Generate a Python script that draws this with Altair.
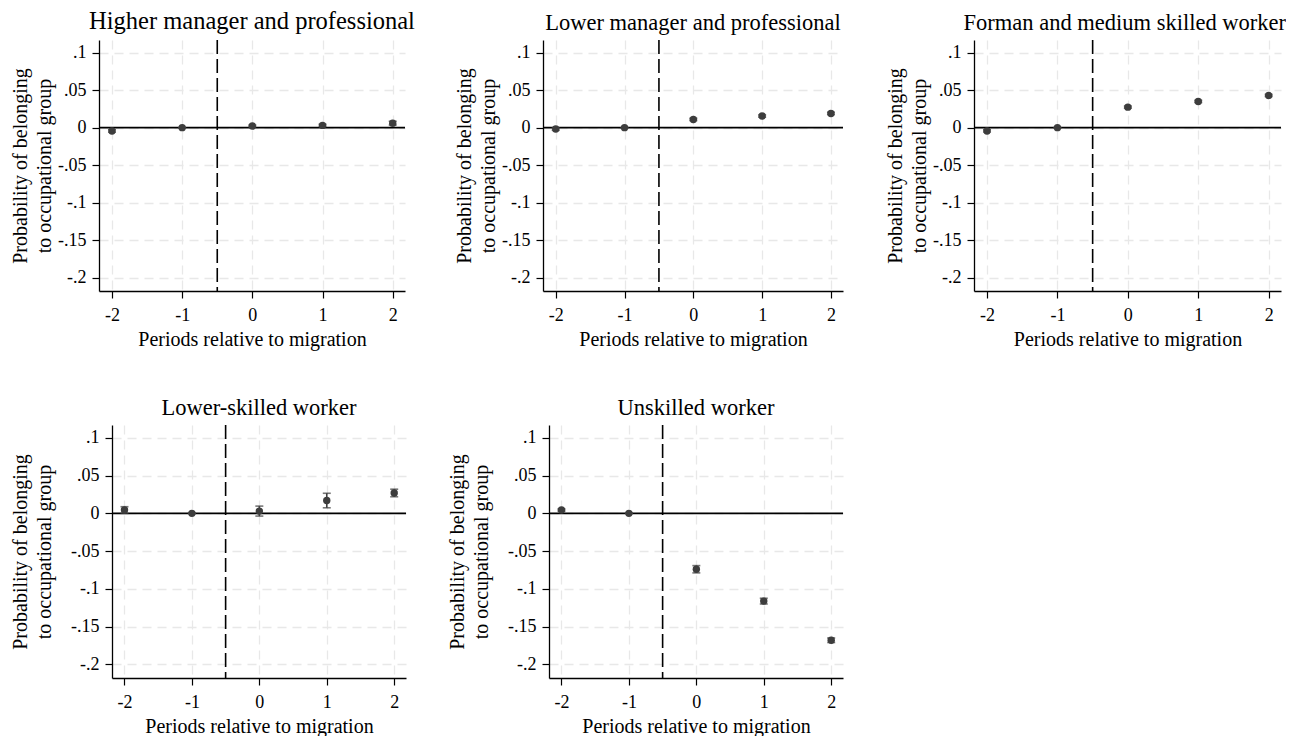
import altair as alt
import pandas as pd

periods = [-2, -1, 0, 1, 2]

titles = [
    "Higher manager and professional",
    "Lower manager and professional",
    "Forman and medium skilled worker",
    "Lower-skilled worker",
    "Unskilled worker",
]

est_higher = [-0.0044, 0.0, 0.0022, 0.0030, 0.0060]
lo_higher = [-0.0060, 0.0, 0.0010, 0.0015, 0.0035]
hi_higher = [-0.0028, 0.0, 0.0034, 0.0045, 0.0085]

est_lower = [-0.0018, 0.0, 0.0110, 0.0155, 0.0190]
lo_lower = [-0.0035, 0.0, 0.0095, 0.0140, 0.0175]
hi_lower = [-0.0001, 0.0, 0.0125, 0.0170, 0.0205]

est_forman = [-0.0044, 0.0, 0.0274, 0.0350, 0.0430]
lo_forman = [-0.0058, 0.0, 0.0260, 0.0336, 0.0416]
hi_forman = [-0.0030, 0.0, 0.0288, 0.0364, 0.0444]

est_lowskill = [0.0044, 0.0, 0.0030, 0.0170, 0.0270]
lo_lowskill = [0.0000, 0.0, -0.0036, 0.0074, 0.0220]
hi_lowskill = [0.0088, 0.0, 0.0096, 0.0266, 0.0320]

est_unskilled = [0.0044, 0.0, -0.0740, -0.1162, -0.1680]
lo_unskilled = [0.0030, 0.0, -0.0788, -0.1200, -0.1710]
hi_unskilled = [0.0058, 0.0, -0.0692, -0.1124, -0.1650]

y_ticks = [-0.2, -0.15, -0.1, -0.05, 0, 0.05, 0.1]
x_domain = [-2.185, 2.175]
y_domain = [-0.218, 0.117]
migration_line = -0.5

FONT = "Liberation Serif"
PT = "#3d3d3d"

label_expr = ("datum.value == 0 ? '0' : (datum.value < 0 ? '-' : '') + "
              "replace(format(abs(datum.value), '~g'), '0.', '.')")


def panel(title, est, lo, hi, width, height, ytitle_pad, tsize=22.5, anchor="middle", dx=0):
    df = pd.DataFrame({"period": periods, "est": est, "lo": lo, "hi": hi})
    x = alt.X("period:Q",
              scale=alt.Scale(domain=x_domain, nice=False, zero=False),
              axis=alt.Axis(values=periods, title="Periods relative to migration",
                            labelExpr="toString(datum.value)"))
    y = alt.Y("est:Q",
              scale=alt.Scale(domain=y_domain, nice=False, zero=False),
              axis=alt.Axis(values=y_ticks, labelExpr=label_expr,
                            title=["Probability of belonging", "to occupational group"],
                            titlePadding=ytitle_pad))
    base = alt.Chart(df)
    zero = alt.Chart(pd.DataFrame({"z": [0]})).mark_rule(
        color="black", strokeWidth=1.6).encode(y=alt.Y("z:Q"))
    vline = alt.Chart(pd.DataFrame({"v": [migration_line]})).mark_rule(
        color="black", strokeWidth=1.6, strokeDash=[14, 5]).encode(x=alt.X("v:Q"))
    bars = base.mark_rule(color=PT, strokeWidth=1.6).encode(
        x=x, y=alt.Y("lo:Q"), y2="hi:Q")
    cap_lo = base.mark_tick(color=PT, orient="horizontal", size=8, thickness=1.6).encode(
        x=x, y=alt.Y("lo:Q"))
    cap_hi = base.mark_tick(color=PT, orient="horizontal", size=8, thickness=1.6).encode(
        x=x, y=alt.Y("hi:Q"))
    pts = base.mark_circle(color=PT, size=55, opacity=1).encode(x=x, y=y)
    return alt.layer(zero, vline, bars, cap_lo, cap_hi, pts).properties(
        width=width, height=height,
        title=alt.TitleParams(title, frame="group", anchor=anchor, dx=dx, fontSize=tsize))


def spacer(w):
    return alt.Chart(pd.DataFrame({"a": [0]})).mark_point(opacity=0).encode(
        x=alt.X("a:Q", axis=None), y=alt.Y("a:Q", axis=None)
    ).properties(width=w, height=10)


p1 = panel(titles[0], est_higher, lo_higher, hi_higher, 306, 251, 3, tsize=24.5)
p2 = panel(titles[1], est_lower, lo_lower, hi_lower, 300, 251, 3)
p3 = panel(titles[2], est_forman, lo_forman, hi_forman, 307, 251, 3, anchor="end", dx=5)
p4 = panel(titles[3], est_lowskill, lo_lowskill, hi_lowskill, 294, 253, 16)
p5 = panel(titles[4], est_unskilled, lo_unskilled, hi_unskilled, 294, 253, 16)

top = alt.hconcat(p1, spacer(138), p2, spacer(131), p3, spacing=0, bounds="flush")
bottom = alt.hconcat(spacer(13), p4, spacer(143), p5, spacing=0, bounds="flush")

# nested flush rows count as zero height, so the row spacing carries the full row pitch
chart = alt.vconcat(top, bottom, spacing=385, bounds="flush").properties(
    padding={"left": 10, "top": 8, "right": 0, "bottom": 0},
    background="white",
).configure_view(stroke=None).configure_axis(
    labelFont=FONT, titleFont=FONT, labelFontSize=18, titleFontSize=20,
    labelColor="black", titleColor="black", titleFontWeight="normal",
    domainColor="black", domainWidth=1.3, tickColor="black", tickSize=7, tickWidth=1.2,
    gridColor="#e8e8e8", gridDash=[9, 6], gridWidth=1.3,
    labelPadding=6, titleLineHeight=24,
).configure_axisX(titlePadding=5, labelPadding=8).configure_title(
    font=FONT, fontWeight="normal", color="black", offset=5,
)

chart.save("out.html", embed_options={"renderer": "svg", "actions": False})
